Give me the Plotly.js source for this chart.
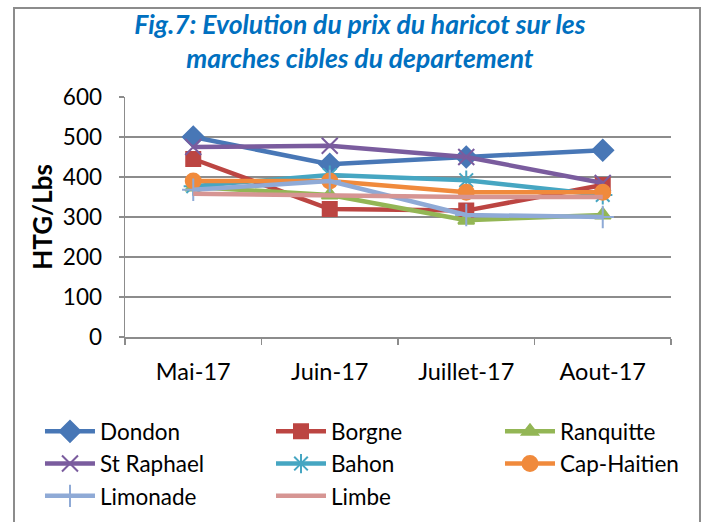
<!DOCTYPE html>
<html>
<head>
<meta charset="utf-8">
<script src="https://cdn.plot.ly/plotly-3.0.1.min.js"></script>
<style>html,body{margin:0;padding:0;background:#fff;}#chart{width:707px;height:522px;}</style>
</head>
<body>
<div id="chart"></div>
<script>
const months = ["Mai-17", "Juin-17", "Juillet-17", "Aout-17"];
const seriesNames = ["Dondon", "Borgne", "Ranquitte", "St Raphael", "Bahon", "Cap-Haitien", "Limonade", "Limbe"];
const dondon     = [500, 432, 450, 467];
const borgne     = [445, 320, 316, 380];
const ranquitte  = [375, 355, 292, 305];
const stRaphael  = [475, 478, 450, 385];
const bahon      = [377, 405, 392, 355];
const capHaitien = [390, 390, 362, 362];
const limonade   = [368, 390, 305, 300];
const limbe      = [358, 355, 350, 350];
const yTicks = [0, 100, 200, 300, 400, 500, 600];

const values = [dondon, borgne, ranquitte, stRaphael, bahon, capHaitien, limonade, limbe];
const colors = ["#4877B6", "#BC4542", "#93B655", "#7A5C9E", "#46A6C2", "#F08A3C", "#8FAAD6", "#D69593"];
const symbols = ["diamond", "square", "triangle-up", "x-thin-open", "asterisk-open", "circle", "cross-thin-open", null];
const sizes = [16, 14, 14, 16, 16, 15, 16, 0];
const legendIds = ["legend", "legend2", "legend3"];

const font = "Lato, 'Open Sans', sans-serif";
const traces = seriesNames.map((n, i) => {
  const t = {
    type: "scatter",
    x: months,
    y: values[i],
    name: n,
    legend: legendIds[i % 3],
    mode: symbols[i] ? "lines+markers" : "lines",
    line: {color: colors[i], width: 4.5},
  };
  if (symbols[i]) {
    t.marker = {symbol: symbols[i], size: sizes[i], color: colors[i], line: {color: colors[i], width: 2}};
  }
  return t;
});

function legendAt(x) {
  return {
    orientation: "v",
    x: x, xanchor: "left",
    y: -0.305, yanchor: "top",
    font: {size: 22.5, family: font},
    itemwidth: 50,
    tracegroupgap: 0,
    bgcolor: "rgba(0,0,0,0)"
  };
}

const layout = {
  width: 707, height: 522,
  margin: {l: 125, r: 36, t: 97, b: 185, autoexpand: false},
  paper_bgcolor: "#fff", plot_bgcolor: "#fff",
  font: {family: font, color: "#000", size: 22},
  showlegend: true,
  title: {
    text: "Fig.7: Evolution du prix du haricot sur les<br>marches cibles du departement",
    font: {family: font, size: 26.5, color: "#0070C0", weight: "bold", style: "italic"},
    x: 0.509, xanchor: "center", xref: "container",
    y: 0.935, yanchor: "top", yref: "container"
  },
  xaxis: {
    type: "category",
    tickvals: months, ticktext: months,
    showline: true, linecolor: "#8c8c8c", linewidth: 1.5,
    ticks: "outside", tickson: "boundaries", ticklen: 6, tickcolor: "#8c8c8c", tickwidth: 1.5,
    showgrid: false, zeroline: false,
    ticklabelstandoff: 13,
    tickfont: {size: 23.5, family: font},
    range: [-0.5, 3.5]
  },
  yaxis: {
    range: [0, 600],
    tickvals: yTicks,
    showline: true, linecolor: "#8c8c8c", linewidth: 1.5,
    ticks: "outside", ticklen: 5, tickcolor: "#8c8c8c", tickwidth: 1.5,
    showgrid: true, gridcolor: "#8c8c8c", gridwidth: 1.5,
    zeroline: false,
    ticklabelstandoff: 12,
    tickfont: {size: 22.5, family: font},
    title: {text: "HTG/Lbs", font: {size: 26, family: font, weight: "bold"}, standoff: 2}
  },
  legend: legendAt(-0.1557),
  legend2: legendAt(0.2674),
  legend3: legendAt(0.6868),
  shapes: [{
    type: "rect", xref: "paper", yref: "paper",
    x0: -0.2033, x1: 1.0531, y0: -0.83, y1: 1.371,
    line: {color: "#8c8c8c", width: 2}, fillcolor: "rgba(0,0,0,0)", layer: "below"
  }]
};

Plotly.newPlot("chart", traces, layout, {displayModeBar: false, staticPlot: true});
</script>
</body>
</html>
